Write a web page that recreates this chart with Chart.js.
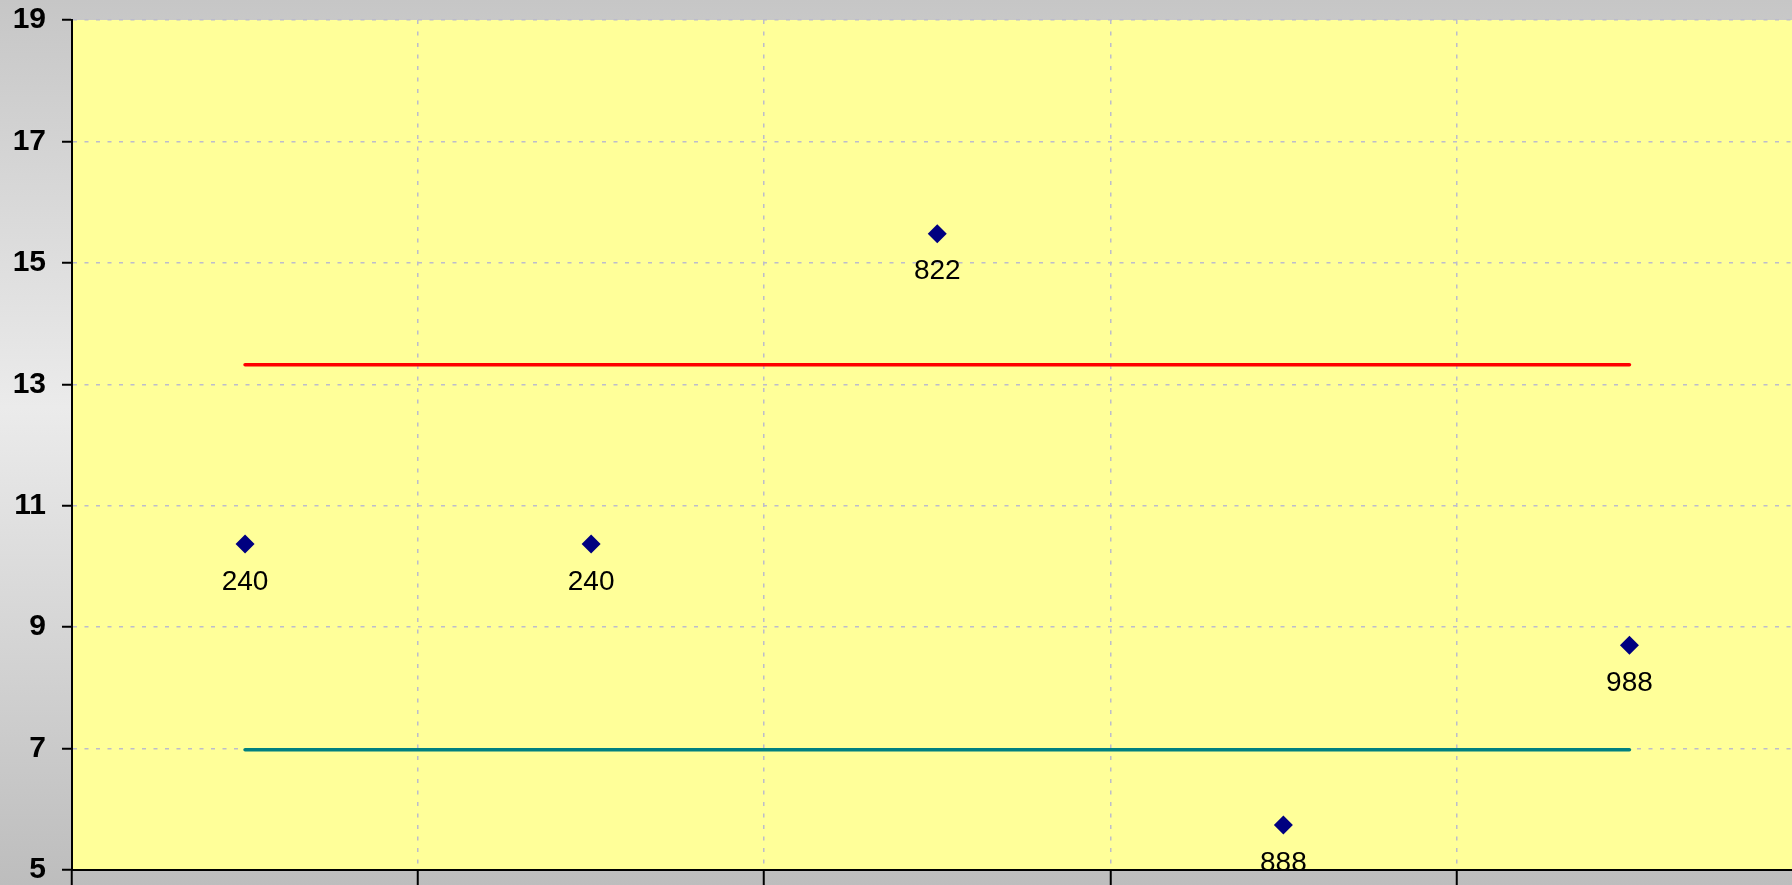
<!DOCTYPE html>
<html>
<head>
<meta charset="utf-8">
<script src="https://cdn.jsdelivr.net/npm/chart.js@4/dist/chart.umd.min.js"></script>
<style>
  html, body { margin: 0; padding: 0; overflow: hidden; background: #c8c8c8; }
  #wrap { position: relative; width: 1812px; height: 885px; }
</style>
</head>
<body>
<div id="wrap"><canvas id="c"></canvas></div>
<script>
// ---- data ----
const categories = ['1', '2', '3', '4', '5'];
const pointValues = [10.37, 10.37, 15.48, 5.74, 8.70];
const pointLabels = ['240', '240', '822', '888', '988'];
const upperLimit = 13.32;
const lowerLimit = 6.98;
const yTicks = [5, 7, 9, 11, 13, 15, 17, 19];

const bgPlugin = {
  id: 'bg',
  beforeDraw(chart) {
    const ctx = chart.ctx;
    const { width, height } = chart;
    const g = ctx.createLinearGradient(0, 0, 0, height);
    g.addColorStop(0, '#c6c6c6');
    g.addColorStop(0.46, '#ebebeb');
    g.addColorStop(1, '#bdbdbd');
    ctx.save();
    ctx.fillStyle = g;
    ctx.fillRect(0, 0, width, height);
    const a = chart.chartArea;
    ctx.fillStyle = '#ffff99';
    ctx.fillRect(a.left, a.top, a.right - a.left, a.bottom - a.top);
    ctx.restore();
  }
};

const labelPlugin = {
  id: 'pointLabels',
  afterDatasetsDraw(chart) {
    const ctx = chart.ctx;
    const meta = chart.getDatasetMeta(0);
    ctx.save();
    ctx.font = '28px "Liberation Sans", Arial, sans-serif';
    ctx.fillStyle = '#000000';
    ctx.textAlign = 'center';
    ctx.textBaseline = 'middle';
    meta.data.forEach((pt, i) => {
      ctx.fillText(pointLabels[i], pt.x, pt.y + 38);
    });
    ctx.restore();
  }
};

new Chart(document.getElementById('c'), {
  data: {
    labels: categories,
    datasets: [
      {
        type: 'line',
        data: pointValues,
        showLine: false,
        pointStyle: 'rectRot',
        pointRadius: 9.5,
        pointBackgroundColor: '#000080',
        pointBorderColor: '#000080',
        pointBorderWidth: 0,
        order: 0
      },
      {
        type: 'line',
        data: [{ x: categories[0], y: upperLimit }, { x: categories[categories.length - 1], y: upperLimit }],
        borderColor: '#ff0000',
        borderWidth: 3.5,
        borderCapStyle: 'round',
        pointRadius: 0,
        order: 1
      },
      {
        type: 'line',
        data: [{ x: categories[0], y: lowerLimit }, { x: categories[categories.length - 1], y: lowerLimit }],
        borderColor: '#008080',
        borderWidth: 3.5,
        borderCapStyle: 'round',
        pointRadius: 0,
        order: 1
      }
    ]
  },
  options: {
    responsive: true,
    maintainAspectRatio: false,
    animation: false,
    devicePixelRatio: 1,
    layout: { padding: { top: 20, right: 0, bottom: 0, left: 0 } },
    plugins: { legend: { display: false }, tooltip: { enabled: false } },
    scales: {
      x: {
        type: 'category',
        offset: true,
        grid: {
          offset: true,
          color: '#bcbccc',
          lineWidth: 1.5,
          drawTicks: true,
          tickLength: 15,
          tickColor: '#000000',
          tickBorderDash: [],
          tickWidth: 2
        },
        border: { color: '#000000', width: 2, dash: [4, 7.5] },
        ticks: { display: false },
        afterFit(scale) {
          scale.height = 15;
          scale.paddingLeft = 0;
          scale.paddingRight = 0;
        }
      },
      y: {
        min: 5,
        max: 19,
        afterBuildTicks(scale) { scale.ticks = yTicks.map(v => ({ value: v })); },
        grid: {
          color: '#bcbccc',
          lineWidth: 1.5,
          tickLength: 10,
          tickColor: '#000000',
          tickBorderDash: [],
          tickWidth: 2
        },
        border: { color: '#000000', width: 2, dash: [4, 7.5] },
        ticks: {
          color: '#000000',
          padding: 16,
          font: { family: '"Liberation Sans", Arial, sans-serif', size: 30, weight: 'bold' }
        },
        afterFit(scale) {
          scale.width = 72;
          scale.paddingTop = 0;
          scale.paddingBottom = 0;
        }
      }
    }
  },
  plugins: [bgPlugin, labelPlugin]
});
</script>
</body>
</html>
